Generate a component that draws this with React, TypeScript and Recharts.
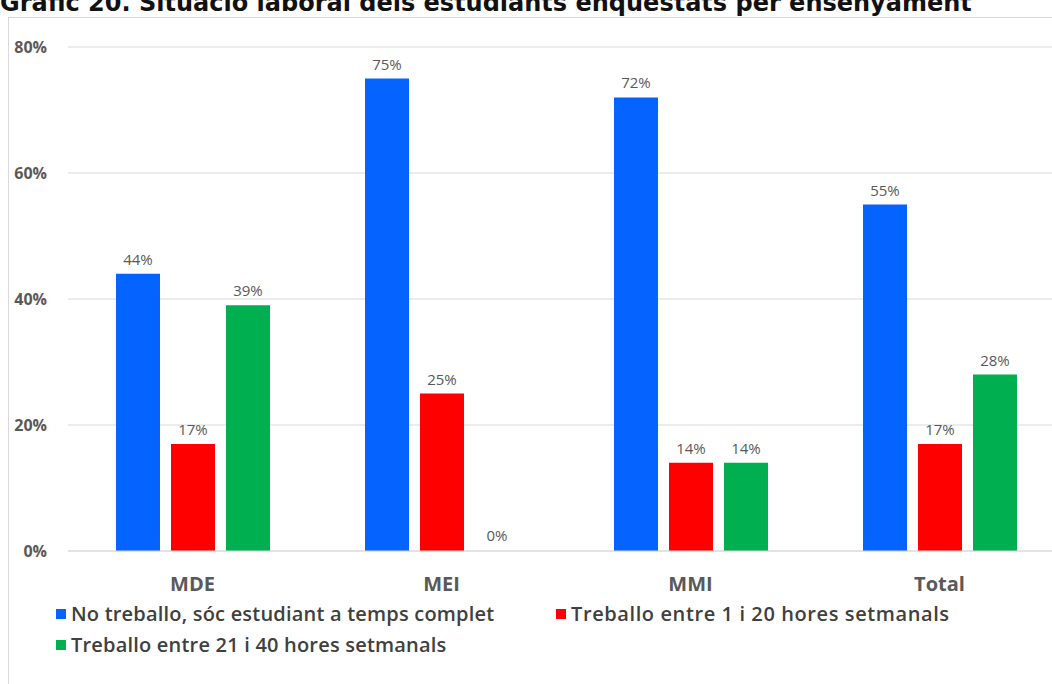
import React from 'react';
import { BarChart, Bar, XAxis, YAxis, CartesianGrid, LabelList, Legend, Rectangle } from 'recharts';

const categories = ['MDE', 'MEI', 'MMI', 'Total'];
const noTreballo = [44, 75, 72, 55];
const treballo1a20 = [17, 25, 14, 17];
const treballo21a40 = [39, 0, 14, 28];
const yTicks = [0, 20, 40, 60, 80];

const seriesNames = [
  'No treballo, sóc estudiant a temps complet',
  'Treballo entre 1 i 20 hores setmanals',
  'Treballo entre 21 i 40 hores setmanals',
];
const colors = ['#0563FF', '#FF0000', '#00B050'];

const data = categories.map((c, i) => ({
  name: c,
  a: noTreballo[i],
  b: treballo1a20[i],
  c: treballo21a40[i],
}));

const TEXT = '#595959';
const FONT = '"Open Sans", "Liberation Sans", sans-serif';

const LegendContent = () => (
  <div style={{ fontFamily: FONT, fontSize: 20, color: '#404040', fontWeight: 600, position: 'relative', width: 1052, height: 70 }}>
    {[
      { i: 0, x: 56, y: 0 },
      { i: 1, x: 556, y: 0 },
      { i: 2, x: 56, y: 31 },
    ].map(({ i, x, y }) => (
      <div key={i} style={{ position: 'absolute', left: x, top: y, display: 'flex', alignItems: 'center', whiteSpace: 'nowrap', lineHeight: '26px', letterSpacing: i === 1 ? 0.6 : 0.2 }}>
        <span style={{ display: 'inline-block', width: 10, height: 10, background: colors[i], marginRight: 5 }} />
        <span>{seriesNames[i]}</span>
      </div>
    ))}
  </div>
);

const BarShape = (props: any) => {
  if (!props.value) return <g />;
  return <Rectangle {...props} />;
};

export default function App() {
  return (
    <div style={{ position: 'absolute', left: 0, top: 0, width: 1052, height: 684, overflow: 'hidden', background: '#fff' }}>
      <div style={{ position: 'absolute', left: 8, top: 17, width: 1100, height: 700, border: '1px solid #d9d9d9' }} />
      <div style={{ position: 'absolute', left: 0, top: -11, fontFamily: '"DejaVu Sans", Verdana, sans-serif', fontWeight: 'bold', fontSize: 24, lineHeight: '29px', color: '#111', whiteSpace: 'nowrap' }}>
        Gràfic 20. Situació laboral dels estudiants enquestats per ensenyament
      </div>
      <div style={{ position: 'absolute', left: 0, top: 0 }}>
        <BarChart width={1080} height={684} data={data} margin={{ top: 47, right: 16, bottom: 93, left: 0 }} barGap={11} barSize={44}>
          <CartesianGrid vertical={false} stroke="#d9d9d9" />
          <XAxis dataKey="name" axisLine={{ stroke: '#d9d9d9' }} tickLine={false} tickSize={0} tickMargin={26} height={40}
            tick={{ fill: TEXT, fontSize: 20, fontWeight: 700, fontFamily: FONT }} />
          <YAxis domain={[0, 80]} ticks={yTicks} width={68} axisLine={false} tickLine={false} tickSize={0} tickMargin={21}
            tickFormatter={(v) => `${v}%`} tick={{ fill: TEXT, fontSize: 16, fontWeight: 700, fontFamily: FONT }} />
          <Legend layout="horizontal" verticalAlign="middle" align="center" content={LegendContent}
            wrapperStyle={{ top: 601, left: 0, width: 1052, height: 70 }} />
          {['a', 'b', 'c'].map((k, i) => (
            <Bar key={k} dataKey={k} name={seriesNames[i]} fill={colors[i]} isAnimationActive={false} minPointSize={1} shape={BarShape}>
              <LabelList dataKey={k} position="top" offset={9} formatter={(v) => `${v}%`}
                style={{ fill: TEXT, fontSize: 15, fontFamily: FONT }} />
            </Bar>
          ))}
        </BarChart>
      </div>
    </div>
  );
}
